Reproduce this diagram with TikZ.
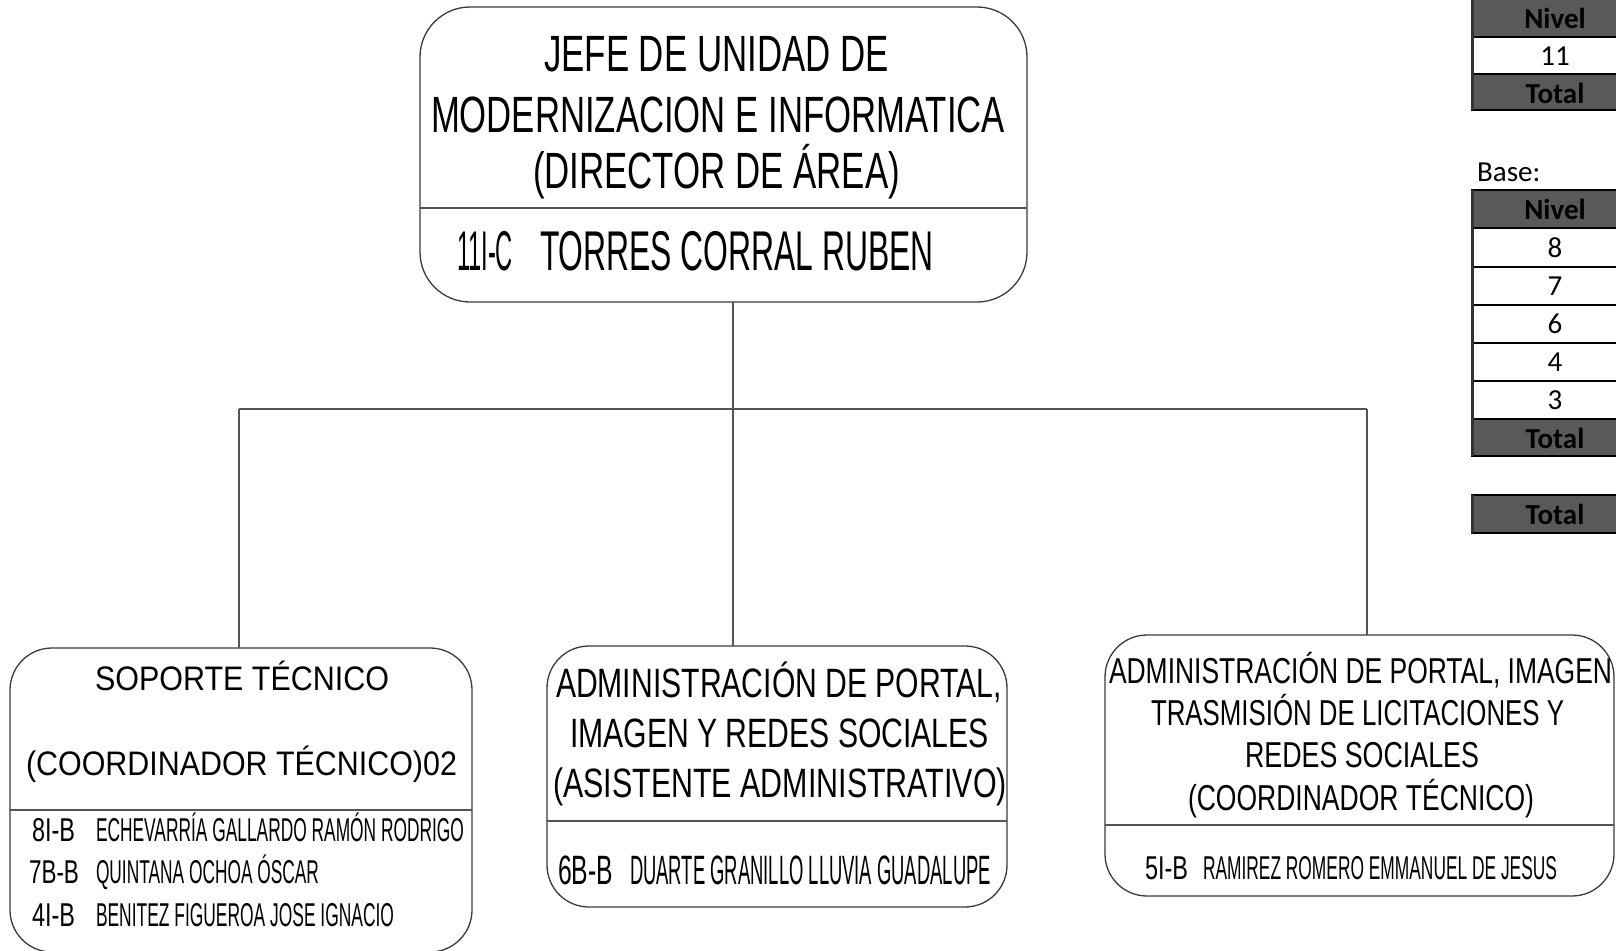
\documentclass[tikz,border=0pt]{standalone}
\usepackage{fontspec}
\setmainfont{Liberation Sans}
\newfontfamily\calib{Carlito}
\usepackage{graphicx}
\newcommand{\fitt}[3]{\resizebox{#1pt}{\height}{\fontsize{#2pt}{#2pt}\selectfont #3}}
\definecolor{boxc}{HTML}{3A3A3A}
\definecolor{connc}{HTML}{555555}
\definecolor{tabg}{HTML}{595959}
\begin{document}
\begin{tikzpicture}[x=1pt,y=-1pt,
  box/.style={draw=boxc, line width=1.3pt, rounded corners=42pt, inner sep=0pt, outer sep=0pt},
  conn/.style={draw=connc, line width=2pt},
  divl/.style={draw=connc, line width=1.3pt},
  txt/.style={anchor=base west, inner sep=0pt, outer sep=0pt, text=black},
  hdr/.style={fill=tabg},
  rowl/.style={draw=black, line width=1.8pt},
  tt/.style={anchor=center, inner sep=0pt, font=\calib\fontsize{29pt}{29pt}\selectfont\bfseries},
  tn/.style={anchor=center, inner sep=0pt, font=\calib\fontsize{29pt}{29pt}\selectfont}]
\useasboundingbox (0,0) rectangle (1616,950);
\clip (0,0) rectangle (1616,950);

% boxes
\node[box, rounded corners=50pt, minimum width=607pt, minimum height=295pt] (top) at (723.5,154.5) {};
\node[box, minimum width=462pt, minimum height=304pt] (lft) at (241,800) {};
\node[box, minimum width=460pt, minimum height=261pt] (mid) at (777,776.5) {};
\node[box, minimum width=509pt, minimum height=261pt] (rgt) at (1359.5,765.5) {};

% dividers
\draw[divl] (top.west |- 0,208) -- (top.east |- 0,208);
\draw[divl] (lft.west |- 0,810) -- (lft.east |- 0,810);
\draw[divl] (mid.west |- 0,821) -- (mid.east |- 0,821);
\draw[divl] (rgt.west |- 0,825) -- (rgt.east |- 0,825);

% connectors
\coordinate (jc) at (733,409);
\coordinate (jl) at (239,409);
\coordinate (jr) at (1367,409);
\draw[conn] (top.south -| jc) -- (jc);
\draw[conn] (jl) -- (jr);
\draw[conn] (jl) -- (lft.north -| jl);
\draw[conn] (jc) -- (mid.north -| jc);
\draw[conn] (jr) -- (rgt.north -| jr);

% top box text
\node[txt] (t1) at (544,72) {\fitt{345}{51}{JEFE DE UNIDAD DE}};
\node[txt] (t2) at (431,132) {\fitt{574}{51}{MODERNIZACION E INFORMATICA}};
\node[txt] (t3) at (533,188) {\fitt{367}{51}{(DIRECTOR DE ÁREA)}};
\node[txt] (t4) at (457,270) {\fitt{56}{56}{11I-C}};
\node[txt] (t5) at (540,270) {\fitt{394}{56}{TORRES CORRAL RUBEN}};

% left box text
\node[txt] (l1) at (95,690) {\fitt{294}{34}{SOPORTE TÉCNICO}};
\node[txt] (l2) at (26,775) {\fitt{431}{34}{(COORDINADOR TÉCNICO)02}};
\node[txt] (l3) at (32,841) {\fitt{43}{33}{8I-B}};
\node[txt] (l4) at (96,841) {\fitt{368}{33}{ECHEVARRÍA GALLARDO RAMÓN RODRIGO}};
\node[txt] (l5) at (29,883) {\fitt{50}{33}{7B-B}};
\node[txt] (l6) at (96,883) {\fitt{223}{33}{QUINTANA OCHOA ÓSCAR}};
\node[txt] (l7) at (32,926) {\fitt{43}{33}{4I-B}};
\node[txt] (l8) at (96,926) {\fitt{298}{33}{BENITEZ FIGUEROA JOSE IGNACIO}};

% middle box text
\node[txt] (m1) at (556,697) {\fitt{446}{41}{ADMINISTRACIÓN DE PORTAL,}};
\node[txt] (m2) at (570,747) {\fitt{419}{41}{IMAGEN Y REDES SOCIALES}};
\node[txt] (m3) at (553,797) {\fitt{454}{41}{(ASISTENTE ADMINISTRATIVO)}};
\node[txt] (m4) at (558,884) {\fitt{55}{41}{6B-B}};
\node[txt] (m5) at (630,884) {\fitt{361}{41}{DUARTE GRANILLO LLUVIA GUADALUPE}};

% right box text
\node[txt] (r1) at (1109,683) {\fitt{503}{36}{ADMINISTRACIÓN DE PORTAL, IMAGEN}};
\node[txt] (r2) at (1151,725) {\fitt{413}{36}{TRASMISIÓN DE LICITACIONES Y}};
\node[txt] (r3) at (1245,767) {\fitt{234}{36}{REDES SOCIALES}};
\node[txt] (r4) at (1188,810) {\fitt{346}{36}{(COORDINADOR TÉCNICO)}};
\node[txt] (r5) at (1145,879) {\fitt{43}{33}{5I-B}};
\node[txt] (r6) at (1203,879) {\fitt{354}{33}{RAMIREZ ROMERO EMMANUEL DE JESUS}};

% tables
\fill[hdr] (1471,-2) rectangle (1620,37);
\fill[hdr] (1471,74) rectangle (1620,110);
\draw[rowl] (1471,37) -- (1620,37);
\draw[rowl] (1471,74) -- (1620,74);
\draw[rowl] (1471,110) -- (1620,110);
\draw[draw=black!80, line width=3pt] (1472,-2) -- (1472,110);
\node[tt] (a1) at (1555,18) {Nivel};
\node[tn] (a2) at (1555,56) {11};
\node[tt] (a3) at (1555,93) {Total};

\node[anchor=base west, inner sep=0pt, font=\calib\fontsize{29pt}{29pt}\selectfont] (bs) at (1477,181) {Base:};

\fill[hdr] (1471,190) rectangle (1620,228);
\fill[hdr] (1471,419) rectangle (1620,456);
\foreach \yy in {190,228,267,305,343,381,419,456}{\draw[rowl] (1471,\yy) -- (1620,\yy);}
\draw[draw=black!80, line width=3pt] (1472,190) -- (1472,456);
\node[tt] (b1) at (1555,209) {Nivel};
\node[tn] (b2) at (1555,248) {8};
\node[tn] (b3) at (1555,286) {7};
\node[tn] (b4) at (1555,324) {6};
\node[tn] (b5) at (1555,362) {4};
\node[tn] (b6) at (1555,400) {3};
\node[tt] (b7) at (1555,438) {Total};

\fill[hdr] (1471,495) rectangle (1620,533);
\draw[rowl] (1471,495) -- (1620,495);
\draw[rowl] (1471,533) -- (1620,533);
\draw[draw=black!80, line width=3pt] (1472,495) -- (1472,533);
\node[tt] (c1) at (1555,514) {Total};
\end{tikzpicture}
\end{document}
